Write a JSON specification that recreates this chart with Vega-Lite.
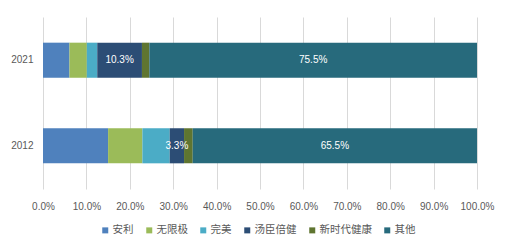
{
  "$schema": "https://vega.github.io/schema/vega-lite/v6.json",
  "width": 434,
  "height": 172,
  "autosize": {"type": "none"},
  "padding": {"left": 43, "top": 17, "right": 33, "bottom": 60},
  "background": "white",
  "config": {
    "view": {"stroke": null},
    "font": "Noto Sans CJK SC"
  },
  "data": {
    "values": [
      {"year": "2021", "brand": "安利", "order": 1, "v": 6.1, "label": ""},
      {"year": "2021", "brand": "无限极", "order": 2, "v": 4.0, "label": ""},
      {"year": "2021", "brand": "完美", "order": 3, "v": 2.4, "label": ""},
      {"year": "2021", "brand": "汤臣倍健", "order": 4, "v": 10.3, "label": "10.3%"},
      {"year": "2021", "brand": "新时代健康", "order": 5, "v": 1.7, "label": ""},
      {"year": "2021", "brand": "其他", "order": 6, "v": 75.5, "label": "75.5%"},
      {"year": "2012", "brand": "安利", "order": 1, "v": 15.0, "label": ""},
      {"year": "2012", "brand": "无限极", "order": 2, "v": 7.9, "label": ""},
      {"year": "2012", "brand": "完美", "order": 3, "v": 6.3, "label": ""},
      {"year": "2012", "brand": "汤臣倍健", "order": 4, "v": 3.3, "label": "3.3%"},
      {"year": "2012", "brand": "新时代健康", "order": 5, "v": 2.0, "label": ""},
      {"year": "2012", "brand": "其他", "order": 6, "v": 65.5, "label": "65.5%"}
    ]
  },
  "encoding": {
    "y": {
      "field": "year", "type": "nominal", "sort": ["2021", "2012"],
      "scale": {"paddingInner": 0.59, "paddingOuter": 0.3},
      "axis": {"title": null, "ticks": false, "domain": false, "labelPadding": 10, "labelFontSize": 10, "labelColor": "#595959", "labelFont": "Liberation Sans"}
    },
    "order": {"field": "order", "type": "quantitative"}
  },
  "layer": [
    {
      "mark": {"type": "bar"},
      "encoding": {
        "x": {
          "field": "v", "type": "quantitative", "stack": "normalize",
          "scale": {"domain": [0, 1], "nice": false},
          "axis": {"title": null, "labelExpr": "format(datum.value, '.1%')", "values": [0,0.1,0.2,0.3,0.4,0.5,0.6,0.7,0.8,0.9,1], "grid": true, "gridColor": "#d9d9d9", "domain": false, "ticks": false, "labelFlush": false, "labelPadding": 12, "labelFontSize": 10, "labelColor": "#595959", "labelFont": "Liberation Sans"}
        },
        "color": {
          "field": "brand", "type": "nominal",
          "sort": ["安利", "无限极", "完美", "汤臣倍健", "新时代健康", "其他"],
          "scale": {
            "domain": ["安利", "无限极", "完美", "汤臣倍健", "新时代健康", "其他"],
            "range": ["#4F81BD", "#9BBB59", "#4BACC6", "#2C4D75", "#5F7530", "#276A7C"]
          },
          "legend": {
            "title": null, "orient": "none", "direction": "horizontal",
            "legendX": 57, "legendY": 208,
            "symbolType": "square", "symbolSize": 36, "symbolStrokeWidth": 0,
            "labelFontSize": 10.5, "labelColor": "#595959", "columnPadding": 10,
            "symbolOffset": 0, "labelOffset": 2
          }
        }
      }
    },
    {
      "mark": {"type": "text", "color": "white", "fontSize": 10, "font": "Liberation Sans"},
      "encoding": {
        "x": {
          "field": "v", "type": "quantitative", "stack": "normalize", "bandPosition": 0.5,
          "scale": {"domain": [0, 1], "nice": false},
          "axis": {"title": null, "labelExpr": "format(datum.value, '.1%')", "values": [0,0.1,0.2,0.3,0.4,0.5,0.6,0.7,0.8,0.9,1], "grid": true, "gridColor": "#d9d9d9", "domain": false, "ticks": false, "labelFlush": false, "labelPadding": 12, "labelFontSize": 10, "labelColor": "#595959", "labelFont": "Liberation Sans"}
        },
        "text": {"field": "label"}
      }
    }
  ]
}
